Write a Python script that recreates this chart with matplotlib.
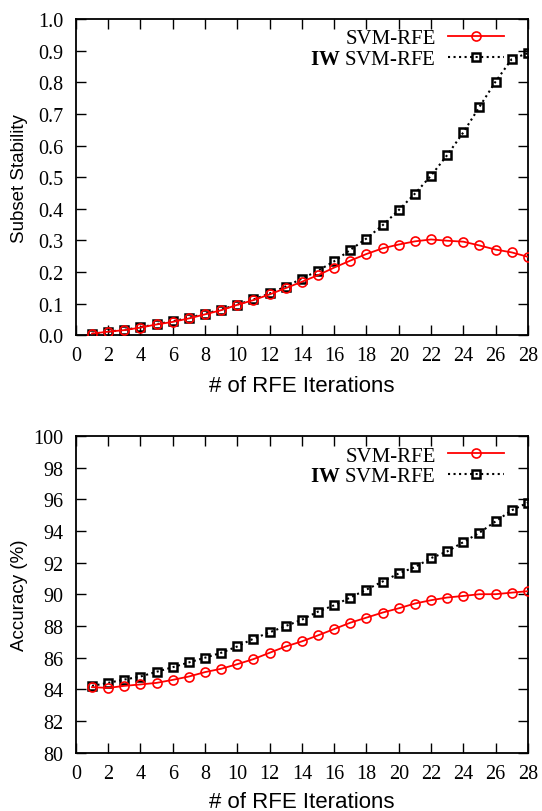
import matplotlib
matplotlib.use("Agg")
import matplotlib.pyplot as plt
import numpy as np

# iterations of RFE
iterations = list(range(1, 29))

# subset stability (top panel)
stab_svm = [0.005, 0.011, 0.016, 0.024, 0.034, 0.042, 0.053, 0.066, 0.079, 0.096,
            0.111, 0.129, 0.149, 0.169, 0.190, 0.214, 0.236, 0.257, 0.275, 0.287,
            0.297, 0.303, 0.299, 0.296, 0.284, 0.271, 0.262, 0.248]
stab_iw = [0.004, 0.011, 0.017, 0.025, 0.035, 0.044, 0.055, 0.068, 0.081, 0.097,
           0.113, 0.132, 0.154, 0.179, 0.204, 0.234, 0.270, 0.306, 0.348, 0.396,
           0.448, 0.505, 0.570, 0.642, 0.723, 0.803, 0.874, 0.893]

# accuracy in % (bottom panel)
acc_svm = [84.13, 84.08, 84.21, 84.30, 84.40, 84.59, 84.80, 85.08, 85.29, 85.58,
           85.90, 86.30, 86.70, 87.02, 87.40, 87.80, 88.20, 88.52, 88.84, 89.11,
           89.41, 89.62, 89.79, 89.89, 90.00, 90.00, 90.10, 90.19]
acc_iw = [84.21, 84.40, 84.61, 84.80, 85.10, 85.39, 85.69, 85.99, 86.30, 86.70,
          87.19, 87.59, 87.99, 88.39, 88.90, 89.30, 89.79, 90.29, 90.80, 91.31,
          91.71, 92.28, 92.70, 93.29, 93.88, 94.60, 95.30, 95.78]

serif = "Liberation Serif"
sans = "Liberation Sans"

# bold "IW" in the legend should be the serif font too
plt.rcParams["mathtext.fontset"] = "custom"
plt.rcParams["mathtext.rm"] = "Liberation Serif"
plt.rcParams["mathtext.bf"] = "Liberation Serif:bold"

fig = plt.figure(figsize=(5.42, 8.12), dpi=100)
ax1 = fig.add_axes([0.140, 0.586, 0.834, 0.389])
ax2 = fig.add_axes([0.140, 0.072, 0.834, 0.390])


def style_axes(ax, ylabel, yticks, ylim, yfmt, xlab_y):
    ax.set_xlim(0, 28)
    ax.set_ylim(*ylim)
    ax.set_xticks(range(0, 29, 2))
    ax.set_yticks(yticks)
    ax.set_yticklabels([yfmt.format(v) for v in yticks], family=serif, fontsize=14.5)
    ax.set_xticklabels([str(v) for v in range(0, 29, 2)], family=serif, fontsize=14.5)
    ax.tick_params(direction="in", length=7, width=1, top=True, right=True)
    ax.tick_params(axis="y", pad=9)
    ax.tick_params(axis="x", pad=8)
    for sp in ax.spines.values():
        sp.set_linewidth(1.3)
    ax.set_xlabel("# of RFE Iterations", family=sans, fontsize=16)
    ax.set_ylabel(ylabel, family=sans, fontsize=13.5)
    ax.xaxis.set_label_coords(0.5, xlab_y)
    ax.yaxis.set_label_coords(-0.106, 0.5)


def draw(ax, y_svm, y_iw, leg_y):
    ax.plot(iterations, y_svm, "-", color="red", lw=1.3, marker="o", ms=6.5,
            mfc="none", mec="red", mew=1.2, label="SVM-RFE", zorder=3)
    ax.plot(iterations, y_iw, ":", color="black", lw=1.5, marker="s", ms=6,
            mfc="none", mec="black", mew=1.8, label=r"$\mathbf{IW}$ SVM-RFE", zorder=2)
    leg = ax.legend(loc="upper right", markerfirst=False, frameon=False,
                    prop={"family": serif, "size": 15}, handlelength=2.7,
                    handletextpad=0.58, labelspacing=0.05, borderpad=0,
                    borderaxespad=0, bbox_to_anchor=(0.947, leg_y))
    # right align the legend entries like gnuplot does
    for col in leg._legend_handle_box.get_children():
        col.align = "right"


draw(ax1, stab_svm, stab_iw, 0.970)
style_axes(ax1, "Subset Stability", np.round(np.arange(0, 1.01, 0.1), 1), (0, 1.0), "{:.1f}", -0.127)

draw(ax2, acc_svm, acc_iw, 0.968)
style_axes(ax2, "Accuracy (%)", list(range(80, 101, 2)), (80, 100), "{:d}", -0.122)

fig.savefig("out.png", dpi=100)
